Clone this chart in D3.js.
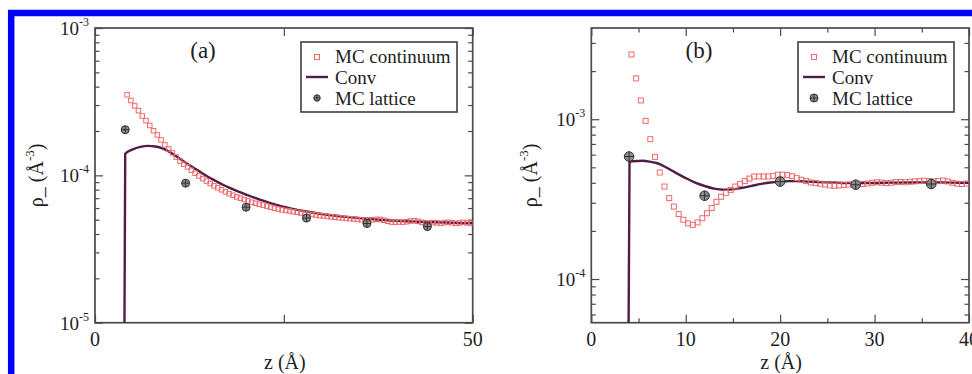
<!DOCTYPE html>
<html lang="en">
<head>
<meta charset="utf-8">
<title>rho minus profiles</title>
<script src="https://cdn.jsdelivr.net/npm/d3@7"></script>
<style>
body { margin: 0; background: #fff; }
svg { display: block; }
text { font-family: "Liberation Serif", "DejaVu Serif", serif; fill: #1e1e1e; }
</style>
</head>
<body>
<script>
// panel (a): [z, rho]
const contA = [
 [4.25,3.52e-4],[4.75,3.22e-4],[5.25,2.96e-4],[5.75,2.75e-4],[6.25,2.53e-4],[6.75,2.35e-4],
 [7.25,2.18e-4],[7.75,2.01e-4],[8.25,1.88e-4],[8.75,1.74e-4],[9.25,1.61e-4],[9.75,1.51e-4],
 [10.25,1.42e-4],[10.75,1.33e-4],[11.25,1.25e-4],[11.75,1.19e-4],[12.25,1.14e-4],[12.75,1.084e-4],
 [13.25,1.035e-4],[13.75,9.9e-5],[14.25,9.5e-5],[14.75,9.14e-5],[15.25,8.8e-5],[15.75,8.49e-5],
 [16.25,8.23e-5],[16.75,7.98e-5],[17.25,7.73e-5],[17.75,7.52e-5],[18.25,7.33e-5],[18.75,7.14e-5],
 [19.25,7.0e-5],[19.75,6.85e-5],[20.25,6.71e-5],[20.75,6.57e-5],[21.25,6.47e-5],[21.75,6.37e-5],
 [22.25,6.28e-5],[22.75,6.18e-5],[23.25,6.08e-5],[23.75,5.98e-5],[24.25,5.9e-5],[24.75,5.83e-5],
 [25.25,5.78e-5],[25.75,5.74e-5],[26.25,5.66e-5],[26.75,5.62e-5],[27.25,5.55e-5],[27.75,5.52e-5],
 [28.25,5.46e-5],[28.75,5.42e-5],[29.25,5.38e-5],[29.75,5.33e-5],[30.25,5.31e-5],[30.75,5.26e-5],
 [31.25,5.23e-5],[31.75,5.2e-5],[32.25,5.16e-5],[32.75,5.14e-5],[33.25,5.1e-5],[33.75,5.08e-5],
 [34.25,5.06e-5],[34.75,5.02e-5],[35.25,5.0e-5],[35.75,4.98e-5],[36.25,4.97e-5],[36.75,4.99e-5],
 [37.25,5.03e-5],[37.75,5.02e-5],[38.25,4.96e-5],[38.75,4.88e-5],[39.25,4.82e-5],[39.75,4.8e-5],
 [40.25,4.82e-5],[40.75,4.81e-5],[41.25,4.84e-5],[41.75,4.9e-5],[42.25,4.92e-5],[42.75,4.88e-5],
 [43.25,4.8e-5],[43.75,4.76e-5],[44.25,4.74e-5],[44.75,4.78e-5],[45.25,4.76e-5],[45.75,4.73e-5],
 [46.25,4.78e-5],[46.75,4.8e-5],[47.25,4.76e-5],[47.75,4.72e-5],[48.25,4.75e-5],[48.75,4.8e-5],
 [49.25,4.76e-5],[49.75,4.72e-5]
];
const convA = [
 [3.9,1e-5],[4.0,1.40e-4],[5,1.50e-4],[6,1.56e-4],[7,1.585e-4],[8,1.57e-4],[9,1.52e-4],
 [10,1.43e-4],[11,1.32e-4],[12,1.22e-4],[13,1.13e-4],[14,1.05e-4],[15,9.75e-5],[16,9.15e-5],
 [17,8.6e-5],[18,8.15e-5],[19,7.75e-5],[20,7.4e-5],[22,6.8e-5],[24,6.3e-5],[26,5.95e-5],
 [28,5.68e-5],[30,5.47e-5],[33,5.25e-5],[36,5.07e-5],[40,4.92e-5],[44,4.82e-5],[50,4.73e-5]
];
const latA = [[4,2.04e-4],[12,8.85e-5],[20,6.08e-5],[28,5.13e-5],[36,4.71e-5],[44,4.49e-5]];

// panel (b): [z, rho]
const contB = [
 [4.25,2.54e-3],[4.75,1.80e-3],[5.25,1.31e-3],[5.75,9.76e-4],[6.25,7.5e-4],[6.75,5.81e-4],
 [7.25,4.64e-4],[7.75,3.79e-4],[8.25,3.21e-4],[8.75,2.84e-4],[9.25,2.55e-4],[9.75,2.35e-4],
 [10.25,2.23e-4],[10.75,2.18e-4],[11.25,2.26e-4],[11.75,2.4e-4],[12.25,2.58e-4],[12.75,2.78e-4],
 [13.25,3.04e-4],[13.75,3.27e-4],[14.25,3.46e-4],[14.75,3.61e-4],[15.25,3.79e-4],[15.75,3.94e-4],
 [16.25,4.1e-4],[16.75,4.25e-4],[17.25,4.38e-4],[17.75,4.38e-4],[18.25,4.38e-4],[18.75,4.38e-4],
 [19.25,4.42e-4],[19.75,4.49e-4],[20.25,4.5e-4],[20.75,4.47e-4],[21.25,4.4e-4],[21.75,4.28e-4],
 [22.25,4.18e-4],[22.75,4.1e-4],[23.25,4.02e-4],[23.75,3.98e-4],[24.25,3.95e-4],[24.75,3.9e-4],
 [25.25,3.85e-4],[25.75,3.83e-4],[26.25,3.85e-4],[26.75,3.88e-4],[27.25,3.9e-4],[27.75,3.92e-4],
 [28.25,3.94e-4],[28.75,3.93e-4],[29.25,3.96e-4],[29.75,4.0e-4],[30.25,4.03e-4],[30.75,4.01e-4],
 [31.25,3.98e-4],[31.75,4.0e-4],[32.25,4.04e-4],[32.75,4.05e-4],[33.25,4.03e-4],[33.75,4.06e-4],
 [34.25,4.08e-4],[34.75,4.1e-4],[35.25,4.12e-4],[35.75,4.1e-4],[36.25,4.08e-4],[36.75,4.1e-4],
 [37.25,4.13e-4],[37.75,4.08e-4],[38.25,4.0e-4],[38.75,3.95e-4],[39.25,3.93e-4],[39.75,3.96e-4]
];
const convB = [
 [3.95,5.33e-5],[4.05,5.43e-4],[5,5.48e-4],[5.5,5.49e-4],[6,5.45e-4],[7,5.3e-4],[8,4.97e-4],
 [9,4.6e-4],[10,4.28e-4],[11,4.01e-4],[12,3.82e-4],[13,3.68e-4],[14,3.62e-4],[15,3.64e-4],
 [16,3.72e-4],[17,3.83e-4],[18,3.94e-4],[19,4.02e-4],[20,4.07e-4],[21,4.1e-4],[22,4.1e-4],
 [23,4.07e-4],[24,4.04e-4],[26,4.0e-4],[28,3.98e-4],[30,3.99e-4],[32,4.01e-4],[34,4.02e-4],
 [36,4.02e-4],[38,4.01e-4],[40,4.0e-4]
];
const latB = [[4,5.84e-4],[12,3.32e-4],[20,4.07e-4],[28,3.89e-4],[36,3.93e-4]];

// ticks
const xTicksA = [0, 25, 50];
const xLabelsA = [0, 50];
const xTicksB = [0, 10, 20, 30, 40];
const xMinorB = [5, 15, 25, 35];
const yTicksA = [1e-5, 1e-4, 1e-3];
const yLabelsA = [["10", "-5"], ["10", "-4"], ["10", "-3"]];
const yTicksB = [1e-4, 1e-3];
const yLabelsB = [["10", "-4"], ["10", "-3"]];
const legendNames = ["MC continuum", "Conv", "MC lattice"];

const contColor = "#ee6a6a";
const convColor = "#4f1d45";
const axisColor = "#4a4a4a";

let svg = d3.select("body").append("svg")
	.attr("width", 972)
	.attr("height", 374);

// blue frame around the figure (cut on right and bottom)
svg.append("rect")
	.attr("x", 11.2).attr("y", 13)
	.attr("width", 1000).attr("height", 400)
	.attr("fill", "none")
	.attr("stroke", "#0000ff")
	.attr("stroke-width", 6.5);

function minorLog(domain) {
	let out = [];
	let lo = Math.floor(Math.log10(domain[0])), hi = Math.ceil(Math.log10(domain[1]));
	for (let e = lo; e < hi; e++) {
		for (let m = 2; m <= 9; m++) {
			let v = m * Math.pow(10, e);
			if (v > domain[0] && v < domain[1]) out.push(v);
		}
	}
	return out;
}

function drawPanel(p) {
	let x = d3.scaleLinear().domain(p.xDomain).range([p.left, p.right]);
	let y = d3.scaleLog().domain(p.yDomain).range([p.bottom, p.top]);
	let g = svg.append("g");

	g.append("clipPath").attr("id", "clip" + p.id)
		.append("rect")
		.attr("x", p.left).attr("y", p.top)
		.attr("width", p.right - p.left).attr("height", p.bottom - p.top);

	// ticks, all pointing inwards, mirrored on top and right
	let tickAxes = [
		[d3.axisBottom(x), p.bottom, "x", p.xTicks, 8],
		[d3.axisTop(x), p.top, "x", p.xTicks, 8],
		[d3.axisBottom(x), p.bottom, "x", p.xMinor, 4.5],
		[d3.axisTop(x), p.top, "x", p.xMinor, 4.5],
		[d3.axisLeft(y), p.left, "y", p.yTicks, 8],
		[d3.axisRight(y), p.right, "y", p.yTicks, 8],
		[d3.axisLeft(y), p.left, "y", minorLog(p.yDomain), 4.5],
		[d3.axisRight(y), p.right, "y", minorLog(p.yDomain), 4.5]
	];
	tickAxes.forEach(function(a) {
		let ag = g.append("g")
			.attr("transform", a[2] == "x" ? "translate(0," + a[1] + ")" : "translate(" + a[1] + ",0)")
			.call(a[0].tickValues(a[3]).tickSize(-a[4]).tickSizeOuter(0).tickFormat(""));
		ag.select(".domain").remove();
		ag.selectAll("line").attr("stroke", axisColor).attr("stroke-width", 1.2);
	});

	g.append("rect")
		.attr("x", p.left).attr("y", p.top)
		.attr("width", p.right - p.left).attr("height", p.bottom - p.top)
		.attr("fill", "none")
		.attr("stroke", axisColor)
		.attr("stroke-width", 1.7);

	// tick labels
	g.selectAll(".xlab")
		.data(p.xLabels)
		.enter()
		.append("text")
		.attr("x", d => x(d))
		.attr("y", p.bottom + 23)
		.attr("text-anchor", "middle")
		.attr("font-size", "20px")
		.text(d => d);

	let yl = g.selectAll(".ylab")
		.data(p.yTicks)
		.enter()
		.append("text")
		.attr("x", p.left - 6)
		.attr("y", d => y(d) + 7)
		.attr("text-anchor", "end")
		.attr("font-size", "19px");
	yl.append("tspan").text((d, i) => p.yLabels[i][0]);
	yl.append("tspan").attr("dy", -9).attr("font-size", "12px").text((d, i) => p.yLabels[i][1]);

	// axis titles
	g.append("text")
		.attr("x", (p.left + p.right) / 2 + 1)
		.attr("y", 369)
		.attr("text-anchor", "middle")
		.attr("font-size", "20px")
		.text("z (Å)");

	let yt = g.append("text")
		.attr("transform", "translate(" + p.titleX + "," + ((p.top + p.bottom) / 2) + ") rotate(-90)")
		.attr("text-anchor", "middle")
		.attr("font-size", "20px");
	yt.append("tspan").text("ρ_ (Å");
	yt.append("tspan").attr("dy", -9).attr("font-size", "13px").text("-3");
	yt.append("tspan").attr("dy", 9).text(")");

	// panel tag
	g.append("text")
		.attr("x", p.tagX)
		.attr("y", 58)
		.attr("text-anchor", "middle")
		.attr("font-size", "23px")
		.text(p.tag);

	let plot = g.append("g").attr("clip-path", "url(#clip" + p.id + ")");

	plot.append("path")
		.datum(p.conv)
		.attr("d", d3.line().x(d => x(d[0])).y(d => y(d[1])).curve(d3.curveMonotoneX))
		.attr("fill", "none")
		.attr("stroke", convColor)
		.attr("stroke-width", 2.4);

	let s = p.sq;
	plot.selectAll(".sq")
		.data(p.cont)
		.enter()
		.append("rect")
		.attr("x", d => x(d[0]) - s / 2)
		.attr("y", d => y(d[1]) - s / 2)
		.attr("width", s).attr("height", s)
		.attr("fill", "none")
		.attr("stroke", contColor)
		.attr("stroke-width", 1);

	let lat = plot.selectAll(".lat")
		.data(p.lat)
		.enter()
		.append("g")
		.attr("transform", d => "translate(" + x(d[0]) + "," + y(d[1]) + ")");
	drawLattice(lat, p.r);

	// legend
	let lg = g.append("g");
	lg.append("rect")
		.attr("x", p.legX).attr("y", 42)
		.attr("width", 156).attr("height", 70)
		.attr("fill", "#fff")
		.attr("stroke", axisColor)
		.attr("stroke-width", 1.7);
	lg.selectAll("text")
		.data(legendNames)
		.enter()
		.append("text")
		.attr("x", p.legX + 34)
		.attr("y", (d, i) => 63 + i * 21)
		.attr("font-size", "19px")
		.text(d => d);
	lg.append("rect")
		.attr("x", p.legX + 16 - 2.5).attr("y", 57 - 2.5)
		.attr("width", 5).attr("height", 5)
		.attr("fill", "none")
		.attr("stroke", contColor);
	lg.append("line")
		.attr("x1", p.legX + 5).attr("x2", p.legX + 27)
		.attr("y1", 77).attr("y2", 77)
		.attr("stroke", convColor)
		.attr("stroke-width", 2.4);
	drawLattice(lg.append("g").attr("transform", "translate(" + (p.legX + 16) + ",98)"), p.r - 0.8);
}

function drawLattice(sel, r) {
	sel.append("circle")
		.attr("r", r)
		.attr("fill", "#8a8a8a")
		.attr("stroke", "#333")
		.attr("stroke-width", 1);
	sel.append("path")
		.attr("d", "M" + (-r) + ",0H" + r + "M0," + (-r) + "V" + r)
		.attr("stroke", "#2a2a2a")
		.attr("stroke-width", 0.9);
}

drawPanel({
	id: "a", tag: "(a)", tagX: 203,
	left: 95, right: 472.7, top: 28, bottom: 322.7,
	xDomain: [0, 50], yDomain: [1e-5, 1e-3],
	xTicks: xTicksA, xMinor: [], xLabels: xLabelsA,
	yTicks: yTicksA, yLabels: yLabelsA,
	titleX: 43, legX: 301,
	cont: contA, conv: convA, lat: latA, sq: 4.5, r: 4
});

drawPanel({
	id: "b", tag: "(b)", tagX: 699,
	left: 591.3, right: 969, top: 28, bottom: 322.7,
	xDomain: [0, 40], yDomain: [5.33e-5, 3.72e-3],
	xTicks: xTicksB, xMinor: xMinorB, xLabels: xTicksB,
	yTicks: yTicksB, yLabels: yLabelsB,
	titleX: 537, legX: 798,
	cont: contB, conv: convB, lat: latB, sq: 5, r: 4.8
});
</script>
</body>
</html>
